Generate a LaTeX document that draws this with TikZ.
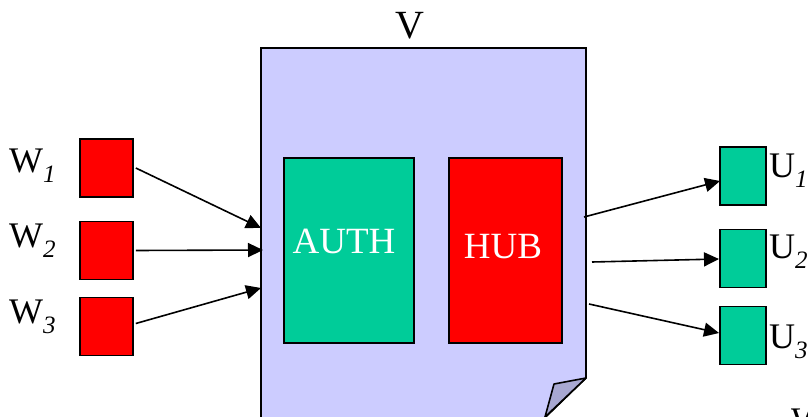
\documentclass[tikz,border=0pt]{standalone}
\usepackage{fontspec}
\setmainfont{Liberation Serif}
\usetikzlibrary{arrows.meta}
\definecolor{pagefill}{HTML}{CCCCFF}
\definecolor{foldfill}{HTML}{A8A8D2}
\definecolor{authgreen}{HTML}{00CC99}
\definecolor{hubred}{HTML}{FF0000}
\newcommand\mysub[1]{\raisebox{-10pt}{\fontsize{25}{25}\selectfont\itshape #1}}
\begin{document}
\begin{tikzpicture}[x=1pt,y=-1pt,
  outline/.style={draw=black,line width=1.6pt},
  wbox/.style={outline,fill=hubred,minimum width=53pt,minimum height=58pt,inner sep=0pt},
  ubox/.style={outline,fill=authgreen,minimum width=46pt,minimum height=58pt,inner sep=0pt},
  bigbox/.style={outline,minimum height=185pt,inner sep=0pt},
  boxtext/.style={text=white,font=\fontsize{37}{37}\selectfont,inner sep=0pt},
  lbl/.style={font=\fontsize{36}{36}\selectfont,inner sep=0pt},
  arr/.style={line width=1.6pt,-{Triangle[length=15pt,width=14pt]}}]
\useasboundingbox (0,0) rectangle (808,417);
\clip (0,0) rectangle (808,417);
% page
\draw[outline,fill=pagefill] (261,440) -- (261,48) -- (586,48) -- (586,378) -- (525,437) -- cycle;
\draw[outline,fill=foldfill,line join=round] (586,378) -- (554,384) -- (545,417) -- cycle;
\node[lbl,anchor=base,font=\fontsize{40}{40}\selectfont] (v) at (410,39) {V};
% inner boxes
\node[bigbox,fill=authgreen,minimum width=130pt] (auth) at (349,250.5) {};
\node[bigbox,fill=hubred,minimum width=113pt] (hub) at (505.5,250.5) {};
\node[boxtext,anchor=base] (authtxt) at (344,253) {AUTH};
\node[boxtext,anchor=base] (hubtxt) at (503,258) {HUB};
% W boxes
\node[wbox] (w1) at (106.5,168) {};
\node[wbox] (w2) at (106.5,250.5) {};
\node[wbox] (w3) at (106.5,326.5) {};
\node[lbl,anchor=base west] (lw1) at (9,172) {W\mysub{1}};
\node[lbl,anchor=base west] (lw2) at (9,247) {W\mysub{2}};
\node[lbl,anchor=base west] (lw3) at (9,323) {W\mysub{3}};
% U boxes
\node[ubox] (u1) at (743,176) {};
\node[ubox] (u2) at (743,258.5) {};
\node[ubox] (u3) at (743,335.5) {};
\node[lbl,anchor=base west] (lu1) at (769,177) {U\mysub{1}};
\node[lbl,anchor=base west] (lu2) at (769,258) {U\mysub{2}};
\node[lbl,anchor=base west] (lu3) at (769,348) {U\mysub{3}};
\node[lbl,anchor=base west] (lw4) at (791,432) {W};
% connector end points
\coordinate (a1) at (261,228);
\coordinate (a2) at (263,250);
\coordinate (a3) at (261,288);
\coordinate (h1) at (584,217);
\coordinate (h2) at (592,262);
\coordinate (h3) at (589,304);
\coordinate (e1) at (720,181);
\coordinate (e2) at (719,259);
\coordinate (e3) at (719,333);
\draw[arr] ([xshift=2pt]w1.east) -- (a1);
\draw[arr] ([xshift=2pt]w2.east) -- (a2);
\draw[arr] ([xshift=2pt,yshift=3pt]w3.east) -- (a3);
\draw[arr] (h1) -- (e1);
\draw[arr] (h2) -- (e2);
\draw[arr] (h3) -- (e3);
\end{tikzpicture}
\end{document}
